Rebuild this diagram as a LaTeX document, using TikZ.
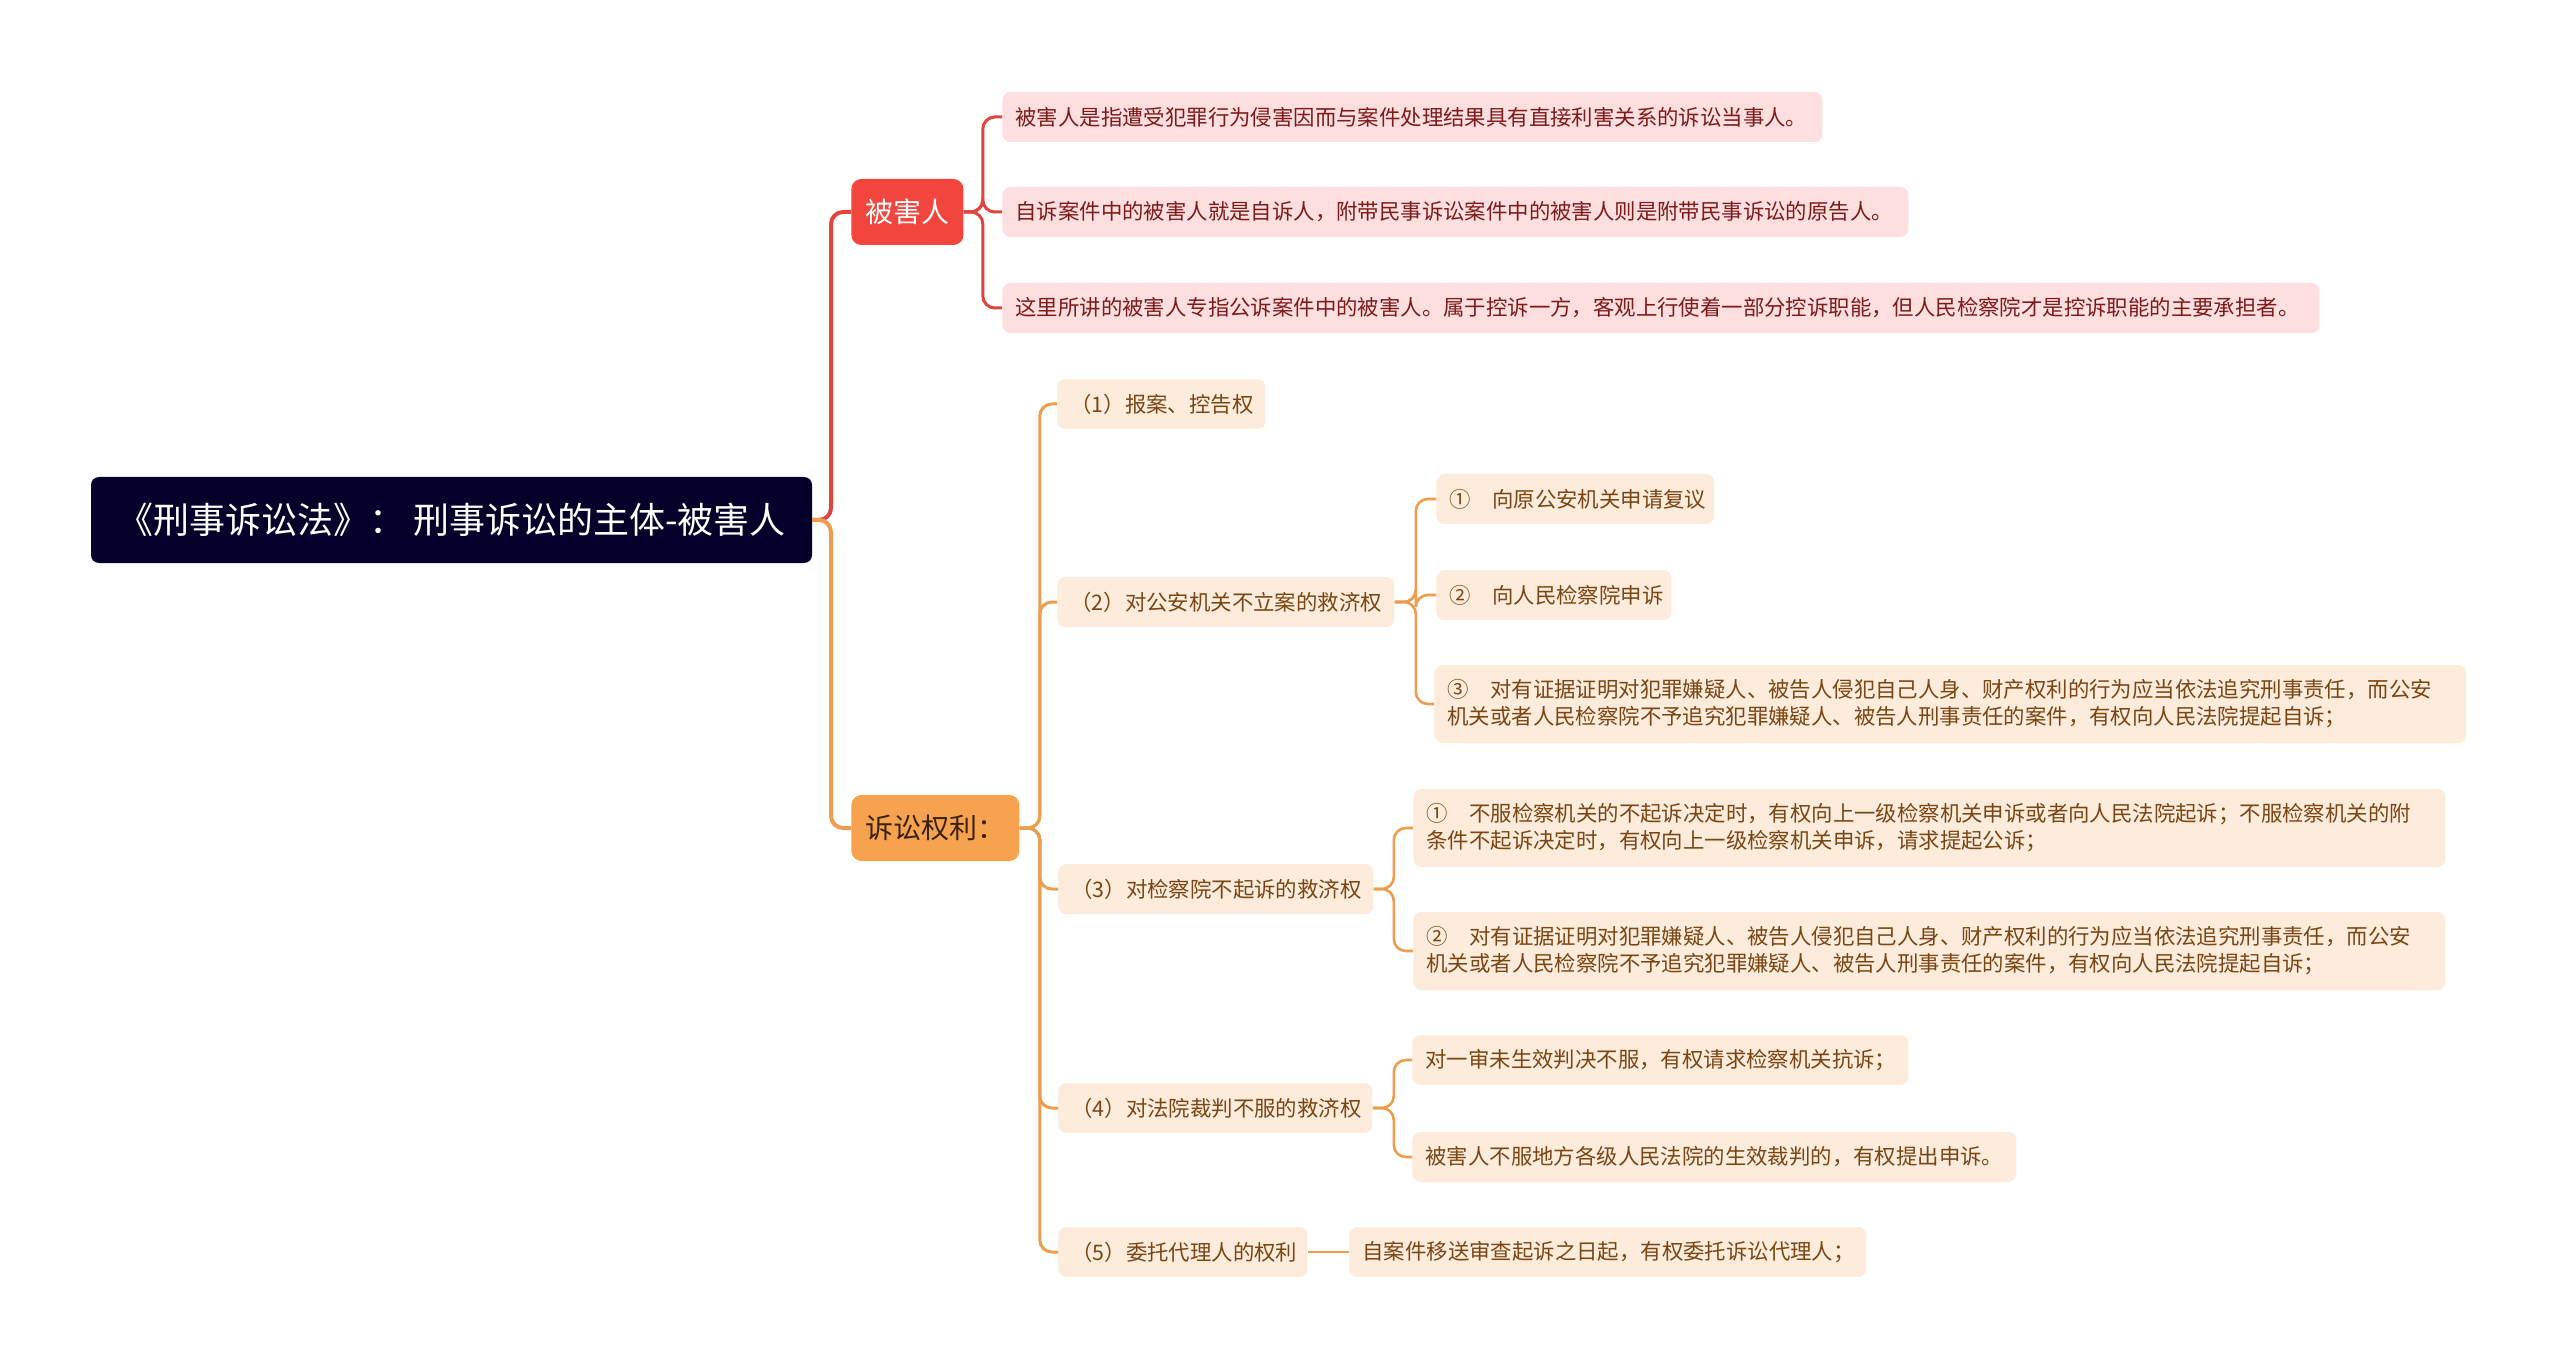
\documentclass[tikz,border=0pt]{standalone}
\usepackage{fontspec}
\setmainfont{Noto Sans CJK SC}
\definecolor{cRoot}{HTML}{03012A}
\definecolor{cRed}{HTML}{F2453D}
\definecolor{cRedLine}{HTML}{E0453B}
\definecolor{cPinkFill}{HTML}{FDDFDF}
\definecolor{cPinkText}{HTML}{7E1A1A}
\definecolor{cOrange}{HTML}{F6A24F}
\definecolor{cOrLine}{HTML}{EE9D4E}
\definecolor{cOrFill}{HTML}{FDEBDB}
\definecolor{cOrText}{HTML}{7A4614}
\definecolor{cOrDark}{HTML}{3A2208}
\newcommand{\numlead}[1]{\mbox{#1\hspace{1em}}}
\begin{document}
\begin{tikzpicture}[x=0.5pt,y=-0.5pt,
  box/.style={rounded corners=4pt, inner xsep=6.5pt, inner ysep=0pt, anchor=west, align=left},
  smallfont/.style={font=\fontsize{10.7}{13.5}\selectfont},
  pinkleaf/.style={box, smallfont, fill=cPinkFill, text=cPinkText, minimum height=25pt},
  orleaf/.style={box, smallfont, fill=cOrFill, text=cOrText, minimum height=25pt},
  orleaftwo/.style={orleaf, minimum height=39pt},
  rootbox/.style={rounded corners=4pt, fill=cRoot, text=white, font=\fontsize{18}{22}\selectfont, minimum width=360.5pt, minimum height=43pt, inner sep=0pt},
  lvlone/.style={rounded corners=5pt, font=\fontsize{14}{17}\selectfont, inner xsep=7pt, inner ysep=0pt, minimum height=33pt, anchor=west},
  trunkred/.style={draw=cRedLine, line width=2pt, rounded corners=6pt},
  trunkor/.style={draw=cOrLine, line width=2pt, rounded corners=6pt},
  redcon/.style={draw=cRedLine, line width=1.5pt, rounded corners=6pt},
  orcon/.style={draw=cOrLine, line width=1.5pt, rounded corners=6pt},
  orconthin/.style={draw=cOrLine, line width=1.3pt, rounded corners=6pt}
]
\useasboundingbox (0,0) rectangle (2560,1369);

% root
\node[rootbox] (root) at (451.5,520) {《刑事诉讼法》： 刑事诉讼的主体-被害人};

% level 1
\node[lvlone, fill=cRed, text=white, minimum width=56pt] (bhr) at (851,212) {被害人};
\node[lvlone, fill=cOrange, text=cOrDark, minimum width=84pt] (ssql) at (851,828) {诉讼权利：};

% pink leaves
\node[pinkleaf, text width=397pt] (p1) at (1002,117) {被害人是指遭受犯罪行为侵害因而与案件处理结果具有直接利害关系的诉讼当事人。};
\node[pinkleaf, text width=440pt] (p2) at (1002,212) {自诉案件中的被害人就是自诉人，附带民事诉讼案件中的被害人则是附带民事诉讼的原告人。};
\node[pinkleaf, text width=645.5pt] (p3) at (1002,308) {这里所讲的被害人专指公诉案件中的被害人。属于控诉一方，客观上行使着一部分控诉职能，但人民检察院才是控诉职能的主要承担者。};

% orange level 2
\node[orleaf, text width=91pt] (o1) at (1057,404) {（1）报案、控告权};
\node[orleaf, text width=155.5pt] (o2) at (1057,602) {（2）对公安机关不立案的救济权};
\node[orleaf, text width=144.5pt] (o3) at (1058,889) {（3）对检察院不起诉的救济权};
\node[orleaf, text width=144pt] (o4) at (1058,1108) {（4）对法院裁判不服的救济权};
\node[orleaf, text width=111.5pt] (o5) at (1058,1252) {（5）委托代理人的权利};

% orange leaves
\node[orleaf, text width=126pt] (o2a) at (1436,499) {\numlead{①}向原公安机关申请复议};
\node[orleaf, text width=104.5pt] (o2b) at (1436,595) {\numlead{②}向人民检察院申诉};
\node[orleaftwo, text width=503pt] (o2c) at (1434,704) {\numlead{③}对有证据证明对犯罪嫌疑人、被告人侵犯自己人身、财产权利的行为应当依法追究刑事责任，而公安\\机关或者人民检察院不予追究犯罪嫌疑人、被告人刑事责任的案件，有权向人民法院提起自诉；};
\node[orleaftwo, text width=503pt] (o3a) at (1413,828) {\numlead{①}不服检察机关的不起诉决定时，有权向上一级检察机关申诉或者向人民法院起诉；不服检察机关的附\\条件不起诉决定时，有权向上一级检察机关申诉，请求提起公诉；};
\node[orleaftwo, text width=503pt] (o3b) at (1413,951) {\numlead{②}对有证据证明对犯罪嫌疑人、被告人侵犯自己人身、财产权利的行为应当依法追究刑事责任，而公安\\机关或者人民检察院不予追究犯罪嫌疑人、被告人刑事责任的案件，有权向人民法院提起自诉；};
\node[orleaf, text width=235pt] (o4a) at (1412,1060) {对一审未生效判决不服，有权请求检察机关抗诉；};
\node[orleaf, text width=289pt] (o4b) at (1412,1157) {被害人不服地方各级人民法院的生效裁判的，有权提出申诉。};
\node[orleaf, text width=245.5pt] (o5a) at (1349,1252) {自案件移送审查起诉之日起，有权委托诉讼代理人；};

% trunk connectors
\coordinate (j0) at (831,520);
\draw[trunkred] (root.east) -- (j0) |- (bhr.west);
\draw[trunkor] (root.east) -- (j0) |- (ssql.west);

% red branch
\foreach \t in {p1,p2,p3}
  \draw[redcon] (bhr.east) -- ++(19,0) |- (\t.west);

% orange branch
\foreach \t in {o1,o2,o3,o4,o5}
  \draw[orcon] (ssql.east) -- ++(20,0) |- (\t.west);
\foreach \t in {o2a,o2b,o2c}
  \draw[orconthin] (o2.east) -- ++(21,0) |- (\t.west);
\foreach \t in {o3a,o3b}
  \draw[orconthin] (o3.east) -- ++(20,0) |- (\t.west);
\foreach \t in {o4a,o4b}
  \draw[orconthin] (o4.east) -- ++(21,0) |- (\t.west);
\draw[orconthin] (o5.east) -- (o5a.west);
\end{tikzpicture}
\end{document}
